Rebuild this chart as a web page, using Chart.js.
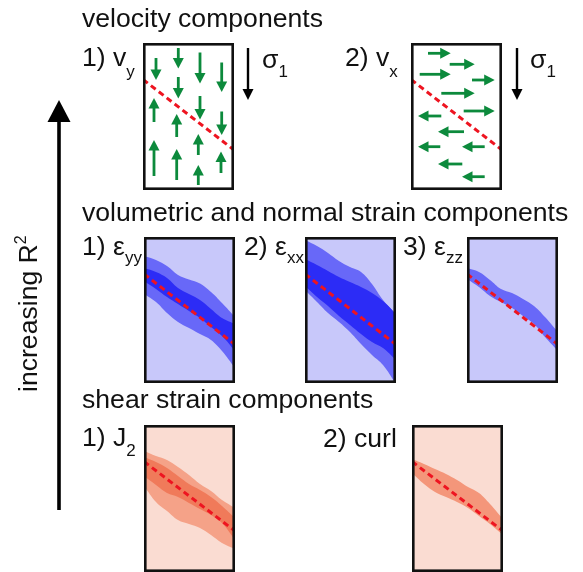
<!DOCTYPE html>
<html>
<head>
<meta charset="utf-8">
<script src="https://cdn.jsdelivr.net/npm/chart.js@4.4.1/dist/chart.umd.min.js"></script>
<style>
    html, body { margin: 0; padding: 0; background: #ffffff; }
    #figure { position: relative; width: 583px; height: 572px; overflow: hidden; }
    #figure canvas { position: absolute; }
    #labels { position: absolute; left: 0; top: 0; }
    #labels text { fill: #111111; }
</style>
</head>
<body>
<div id="figure">
    <canvas id="frame" width="583" height="572" style="left:0;top:0"></canvas>
    <svg id="labels" width="583" height="572" font-family="'Liberation Sans', Arial, sans-serif" font-size="26.6">
        <text x="82" y="27">velocity components</text>
        <text x="82" y="66">1) v<tspan font-size="17" dy="11">y</tspan></text>
        <text x="262" y="68">σ<tspan font-size="17" dy="9">1</tspan></text>
        <text x="345" y="66">2) v<tspan font-size="17" dy="11">x</tspan></text>
        <text x="530" y="68">σ<tspan font-size="17" dy="9">1</tspan></text>

        <text x="82" y="221">volumetric and normal strain components</text>
        <text x="82" y="255">1) ε<tspan font-size="17" dy="8">yy</tspan></text>
        <text x="244" y="255">2) ε<tspan font-size="17" dy="8">xx</tspan></text>
        <text x="403" y="255">3) ε<tspan font-size="17" dy="8">zz</tspan></text>

        <text x="82" y="408">shear strain components</text>
        <text x="82" y="446">1) J<tspan font-size="17" dy="10">2</tspan></text>
        <text x="323" y="447">2) curl</text>

        <text transform="translate(37,392) rotate(-90)">increasing R<tspan font-size="16" dy="-11">2</tspan></text>
    </svg>
</div>

<script>
// Schematische figuur: zes kleine panelen, elk een eigen Chart.js scatter.
// Coordinaten in een paneel zijn pixels binnen het kader (y loopt naar beneden).

var GREEN = "#0c8a3c";
var RED = "#ee1420";

// 1) v_y : verticale pijlen (x, staart-y, punt-y)
var vyArrowX = [12, 34.3, 56, 77.7, 34.3, 56, 77.7, 10, 32.7, 10, 32.7, 54.3, 54.3, 77];
var vyArrowTail = [14, 4, 8.5, 18.5, 33, 52, 67.5, 78, 93, 132, 136, 111, 141, 129];
var vyArrowTip = [36, 24.5, 39.5, 48, 54.5, 75.5, 91, 54, 70, 96, 105, 90, 121, 107.5];

// 2) v_x : horizontale pijlen (y, staart-x, punt-x)
var vxArrowY = [9.3, 20.3, 30.3, 36, 49.3, 67, 72, 87.7, 102.7, 102.7, 120, 132.7];
var vxArrowTail = [16, 37.7, 7.7, 60, 29.3, 51.7, 29.3, 52, 28.3, 72.7, 50.3, 72.7];
var vxArrowTip = [38.7, 62.7, 38.7, 82.7, 62.7, 82.7, 6, 26, 6, 50, 26, 50];

// de rode breuklijn in elk paneel
var faultX = [-1, 90];
var faultVelocityY = [35.5, 106];
var faultStrainY = [36, 106.5];
var faultShearY = [35.5, 105];

// banden rond de breuklijn, bemonsterd op dezelfde x-waarden
var bandX = [-1, 11, 22, 33, 44, 55, 66, 77, 90];

var eyyOuterTop = [18, 22, 28, 37, 41.5, 45.5, 54, 65, 79];
var eyyOuterBottom = [56, 64, 75, 84, 90, 96, 102, 113, 130];
var eyyInnerTop = [30, 34, 40, 50, 56, 62, 71, 80, 86];
var eyyInnerBottom = [43, 51, 59, 66, 73, 80, 89, 98, 113];

var exxOuterTop = [2, 8, 15, 23, 29, 34, 46, 62, 76];
var exxOuterBottom = [52, 64, 75, 84, 94, 106, 117, 127, 146];
var exxInnerTop = [21, 27, 33, 39, 44, 49, 55, 63, 76];
var exxInnerBottom = [48, 59, 68, 78, 87, 96, 104, 110, 122];

var ezzTop = [30, 34, 42, 51, 55, 61, 68, 79, 94];
var ezzBottom = [41, 49, 58, 64, 70, 78, 86, 99, 113];

var j2OuterTop = [25, 30, 34, 41, 49, 58, 65, 74, 82];
var j2OuterBottom = [60, 76, 85, 94, 98, 102, 109, 117, 123];
var j2InnerTop = [31, 36, 42, 50, 58, 64, 71, 80, 92];
var j2InnerBottom = [50, 59, 67, 71, 77, 83, 89, 97, 114];

var curlTop = [33, 38, 43, 48, 54, 61, 67, 78, 93];
var curlBottom = [47, 58, 66, 71, 76, 82, 90, 98, 109];

// pijl "increasing R2" en de twee sigma-pijlen, in paginapixels
var frameArrowX = [59, 248, 517];
var frameArrowTail = [510, 48, 48];
var frameArrowTip = [100, 100, 100];

var BLUE_BG = "#c8c8fa";
var BLUE_MID = "#6868f8";
var BLUE_DARK = "#2c2cf6";
var SALMON_BG = "#fadcd2";
var SALMON_MID = "#f5a288";
var SALMON_DARK = "#f07a5a";
var SALMON_CURL = "#f4967a";

document.addEventListener("DOMContentLoaded", function () {
    drawFrame();
    drawPanels();
});

var arrowPlugin = {
    id: "arrowHeads",
    afterDatasetsDraw: function (chart) {
        var ctx = chart.ctx;
        chart.data.datasets.forEach(function (dataset, index) {
            if (!dataset.arrow) {
                return;
            }
            var points = chart.getDatasetMeta(index).data;
            var start = points[0];
            var end = points[1];
            var dx = end.x - start.x;
            var dy = end.y - start.y;
            var length = Math.sqrt(dx * dx + dy * dy);
            var ux = dx / length;
            var uy = dy / length;
            var a = dataset.arrow;
            var bx = end.x - ux * a.headLength;
            var by = end.y - uy * a.headLength;
            var half = a.headWidth / 2;

            ctx.save();
            ctx.strokeStyle = a.color;
            ctx.fillStyle = a.color;
            ctx.lineWidth = a.width;
            ctx.lineCap = "butt";
            ctx.beginPath();
            ctx.moveTo(start.x, start.y);
            ctx.lineTo(bx + ux, by + uy);
            ctx.stroke();
            ctx.beginPath();
            ctx.moveTo(end.x, end.y);
            ctx.lineTo(bx - uy * half, by + ux * half);
            ctx.lineTo(bx + uy * half, by - ux * half);
            ctx.closePath();
            ctx.fill();
            ctx.restore();
        });
    }
};

var panelFramePlugin = {
    id: "panelFrame",
    beforeDraw: function (chart, args, opts) {
        if (!opts.background) {
            return;
        }
        var ctx = chart.ctx;
        ctx.save();
        ctx.fillStyle = opts.background;
        ctx.fillRect(0, 0, chart.width, chart.height);
        ctx.restore();
    },
    afterDraw: function (chart, args, opts) {
        if (!opts.border) {
            return;
        }
        var ctx = chart.ctx;
        ctx.save();
        ctx.strokeStyle = "#111111";
        ctx.lineWidth = 2.6;
        ctx.strokeRect(1.3, 1.3, chart.width - 2.6, chart.height - 2.6);
        ctx.restore();
    }
};

function arrowDataset(x1, y1, x2, y2, style) {
    return {
        data: [{ x: x1, y: y1 }, { x: x2, y: y2 }],
        showLine: false,
        pointRadius: 0,
        arrow: style
    };
}

// Chart.js tekent de eerste dataset bovenop, dus: breuklijn eerst, dan de
// binnenste band, daarna de buitenste band.
function bandDatasets(top, bottom, color) {
    var upper = bandX.map(function (x, i) { return { x: x, y: top[i] }; });
    var lower = bandX.map(function (x, i) { return { x: x, y: bottom[i] }; });
    var common = {
        showLine: true,
        pointRadius: 0,
        borderWidth: 0,
        borderColor: "transparent",
        tension: 0.4
    };
    return [
        Object.assign({ data: upper, fill: "+1", backgroundColor: color }, common),
        Object.assign({ data: lower, fill: false }, common)
    ];
}

function faultDataset(values) {
    return {
        data: faultX.map(function (x, i) { return { x: x, y: values[i] }; }),
        showLine: true,
        fill: false,
        pointRadius: 0,
        borderColor: RED,
        borderWidth: 3,
        borderDash: [6, 4]
    };
}

function baseOptions(xMin, xMax, yMin, yMax, frameOptions) {
    return {
        responsive: false,
        animation: false,
        events: [],
        layout: { padding: 0, autoPadding: false },
        plugins: {
            legend: { display: false },
            tooltip: { enabled: false },
            panelFrame: frameOptions
        },
        scales: {
            x: { type: "linear", min: xMin, max: xMax, display: false },
            y: { type: "linear", min: yMin, max: yMax, reverse: true, display: false }
        }
    };
}

function drawFrame() {
    var styles = [
        { color: "#000000", width: 3.6, headLength: 22, headWidth: 23 },
        { color: "#000000", width: 2.4, headLength: 11, headWidth: 11 },
        { color: "#000000", width: 2.4, headLength: 11, headWidth: 11 }
    ];
    var datasets = frameArrowX.map(function (x, i) {
        return arrowDataset(x, frameArrowTail[i], x, frameArrowTip[i], styles[i]);
    });
    new Chart(document.getElementById("frame"), {
        type: "scatter",
        data: { datasets: datasets },
        options: baseOptions(0, 583, 0, 572, {}),
        plugins: [arrowPlugin]
    });
}

function velocityArrowStyle() {
    return { color: GREEN, width: 2.8, headLength: 10.5, headWidth: 11 };
}

function drawPanels() {
    var figure = document.getElementById("figure");
    var labels = document.getElementById("labels");

    var vyDatasets = [faultDataset(faultVelocityY)].concat(vyArrowX.map(function (x, i) {
        return arrowDataset(x, vyArrowTail[i], x, vyArrowTip[i], velocityArrowStyle());
    }));
    var vxDatasets = [faultDataset(faultVelocityY)].concat(vxArrowY.map(function (y, i) {
        return arrowDataset(vxArrowTail[i], y, vxArrowTip[i], y, velocityArrowStyle());
    }));

    var panels = [
        { left: 143, top: 43, width: 91, height: 147, background: "#ffffff", datasets: vyDatasets },
        { left: 411, top: 43, width: 91, height: 147, background: "#ffffff", datasets: vxDatasets },
        {
            left: 144, top: 237, width: 91, height: 146, background: BLUE_BG,
            datasets: [faultDataset(faultStrainY)]
                .concat(bandDatasets(eyyInnerTop, eyyInnerBottom, BLUE_DARK))
                .concat(bandDatasets(eyyOuterTop, eyyOuterBottom, BLUE_MID))
        },
        {
            left: 305, top: 237, width: 91, height: 146, background: BLUE_BG,
            datasets: [faultDataset(faultStrainY)]
                .concat(bandDatasets(exxInnerTop, exxInnerBottom, BLUE_DARK))
                .concat(bandDatasets(exxOuterTop, exxOuterBottom, BLUE_MID))
        },
        {
            left: 467, top: 237, width: 91, height: 146, background: BLUE_BG,
            datasets: [faultDataset(faultStrainY)]
                .concat(bandDatasets(ezzTop, ezzBottom, BLUE_MID))
        },
        {
            left: 144, top: 425, width: 91, height: 147, background: SALMON_BG,
            datasets: [faultDataset(faultShearY)]
                .concat(bandDatasets(j2InnerTop, j2InnerBottom, SALMON_DARK))
                .concat(bandDatasets(j2OuterTop, j2OuterBottom, SALMON_MID))
        },
        {
            left: 412, top: 425, width: 91, height: 147, background: SALMON_BG,
            datasets: [faultDataset(faultShearY)]
                .concat(bandDatasets(curlTop, curlBottom, SALMON_CURL))
        }
    ];

    panels.forEach(function (panel) {
        var canvas = document.createElement("canvas");
        canvas.width = panel.width;
        canvas.height = panel.height;
        canvas.style.left = panel.left + "px";
        canvas.style.top = panel.top + "px";
        figure.insertBefore(canvas, labels);

        new Chart(canvas, {
            type: "scatter",
            data: { datasets: panel.datasets },
            options: baseOptions(-1, panel.width - 1, -1, panel.height - 1, {
                background: panel.background,
                border: true
            }),
            plugins: [panelFramePlugin, arrowPlugin]
        });
    });
}
</script>
</body>
</html>
